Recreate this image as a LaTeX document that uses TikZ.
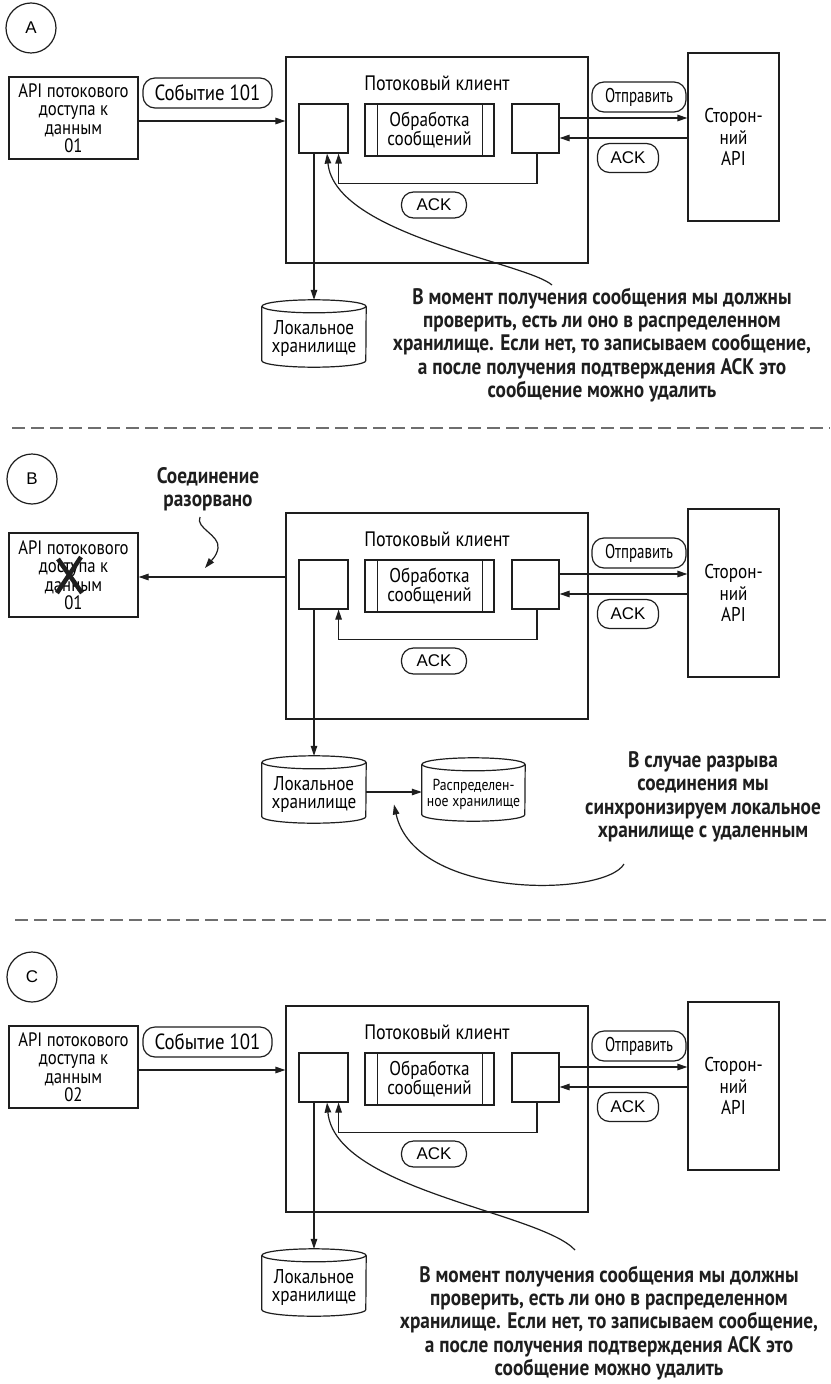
\documentclass[tikz,border=0pt]{standalone}
\usepackage{fontspec}
\setmainfont{PT Sans}[FakeStretch=0.86]
\newfontfamily\ackfamily{Liberation Sans}
\usetikzlibrary{arrows.meta,calc}

\definecolor{ink}{HTML}{1E1E1E}
\definecolor{sepgray}{HTML}{6E6E6E}

\newcommand\lbl{\fontsize{20}{17}\selectfont}
\newcommand\apif{\fontsize{19.5}{18.5}\selectfont}
\newcommand\ackf{\ackfamily\fontsize{17}{17}\selectfont}
\newcommand\notef{\bfseries\fontsize{22.5}{23.5}\selectfont}

\tikzset{
  x=1bp, y=-1bp,
  line/.style={draw=ink, line width=1.2bp},
  box/.style={line, rectangle, inner sep=0pt, align=center, font=\lbl},
  pill/.style={line, rectangle, rounded corners=12bp, inner sep=0pt, align=center, font=\lbl},
  arr/.style={line, -{Triangle[length=10bp,width=6.5bp]}},
  circ/.style={line, circle, minimum size=50bp, inner sep=0pt, font=\ackf},
  note/.style={align=center, font=\notef, text=ink},
  sep/.style={draw=sepgray, line width=1.3bp, dash pattern=on 13bp off 6bp},
}

% storage cylinder: name, centre, width, height, font, text
\newcommand\storage[6]{%
  \node[minimum width=#3bp, minimum height=#4bp, inner sep=0pt] (#1) at #2 {};
  \draw[line] ($(#1.north west)+(0,6.5)$) -- ($(#1.south west)+(0,-6.5)$)
    arc[start angle=180, end angle=360, x radius=#3*0.5bp, y radius=6.5bp]
    -- ($(#1.north east)+(0,6.5)$);
  \draw[line] ($(#1.north)+(0,6.5)$) ellipse[x radius=#3*0.5bp, y radius=6.5bp];
  \node[font=#5, align=center, inner sep=0pt] (#1-txt) at ($(#1)+(0,5)$) {#6};
}

% streaming client with its buffers, third-party API and local storage
\newcommand\clientblock[2]{%
\begin{scope}[shift={(0,#2)}]
  \node[box, minimum width=302bp, minimum height=206bp] (#1cl) at (437,160) {};
  \node[font=\fontsize{21}{21}\selectfont] (#1ttl) at (437,83) {Потоковый клиент};
  \node[box, minimum width=49bp, minimum height=49bp] (#1in) at (323.5,128.5) {};
  \node[box, minimum width=129bp, minimum height=52bp, font=\fontsize{20}{18}\selectfont] (#1proc) at (429.5,130) {Обработка\\сообщений};
  \draw[line] ($(#1proc.north west)+(13,0)$) -- ($(#1proc.south west)+(13,0)$);
  \draw[line] ($(#1proc.north east)+(-12,0)$) -- ($(#1proc.south east)+(-12,0)$);
  \node[box, minimum width=47bp, minimum height=49bp] (#1out) at (535.5,128.5) {};
  \draw[arr] ($(#1out.south)+(1.5,0)$) -- ++(0,30) -| ($(#1in.south east)+(-10,0)$);
  \node[pill, minimum width=65bp, minimum height=26bp, font=\ackf] (#1ack) at (434,205) {ACK};
  \node[box, minimum width=91bp, minimum height=168bp, font=\fontsize{20}{21.5}\selectfont] (#1ext) at (733.5,137) {Сторон-\\ний\\API};
  \draw[arr] ($(#1out.east)+(0,-10.5)$) -- ($(#1ext.west|-#1out.east)+(0,-10.5)$);
  \draw[arr] ($(#1ext.west|-#1out.east)+(0,9.5)$) -- ($(#1out.east)+(0,9.5)$);
  \node[pill, minimum width=94bp, minimum height=30bp] (#1send) at (639,97) {\scalebox{0.87}[1]{Отправить}};
  \node[pill, minimum width=61bp, minimum height=29bp, font=\ackf] (#1ack2) at (628,158) {ACK};
  \storage{#1loc}{(314,333.5)}{104}{67}{\fontsize{20}{18}\selectfont}{Локальное\\хранилище}
  \draw[arr] (#1in.south -| #1loc.north) -- (#1loc.north);
\end{scope}}

\begin{document}
\begin{tikzpicture}
\useasboundingbox (0,0) rectangle (830,1384);
\fill[white] (0,0) rectangle (830,1384);

% separators between the three cases
\draw[sep] (12,428) -- (830,428);
\draw[sep] (15,920) -- (830,920);

\clientblock{A}{0}
\clientblock{B}{456}
\clientblock{C}{949}

% ---------- case A
\node[circ] (Acirc) at (31,28) {A};
\node[box, minimum width=129bp, minimum height=82bp, font=\apif] (Aapi) at (73.5,118) {API потокового\\доступа к\\данным\\01};
\node[pill, minimum width=129bp, minimum height=30bp, font=\fontsize{22}{22}\selectfont] (Aevt) at (207.5,93) {Событие 101};
\draw[arr] ($(Aapi.east)+(0,3)$) -- ($(Aapi.east -| Acl.west)+(0,3)$);
\node[note] (Anote) at (602,345) {В момент получения сообщения мы должны\\проверить, есть ли оно в распределенном\\хранилище. Если нет, то записываем сообщение,\\а после получения подтверждения ACK это\\сообщение можно удалить};
\coordinate (Atail) at (552,285);
\draw[arr] (Atail) .. controls (525,262) and (335,235) .. ($(Ain.south)+(3.5,0)$);

% ---------- case B
\node[circ] (Bcirc) at (32,479) {B};
\node[note] (Bbrk) at (208,489) {Соединение\\разорвано};
\node[box, minimum width=129bp, minimum height=84bp, font=\apif] (Bapi) at (73.5,575) {API потокового\\доступа к\\данным\\01};
\draw[ink, line width=4.5bp] (57,593) -- (81,557) (58,559) -- (82,593);
\draw[arr] ($(Bcl.west|-Bapi.east)+(0,2)$) -- ($(Bapi.east)+(0,2)$);
\coordinate (Bwave) at (200,517);
\draw[arr] (Bwave) .. controls (195,528) and (220,535) .. (218,548) .. controls (217,556) and (210,562) .. (205,568);
\storage{Bdist}{(473.5,789.5)}{103}{63}{\fontsize{16}{16}\selectfont}{Распределен-\\ное хранилище}
\draw[arr] ($(Bloc.east)+(0,2.5)$) -- ($(Bloc.east -| Bdist.west)+(0,2.5)$);
\node[note] (Bnote) at (703,797) {В случае разрыва\\соединения мы\\синхронизируем локальное\\хранилище с удаленным};
\coordinate (Btail) at (624,864);
\coordinate (Bhead) at ($(Bloc.east)!0.5!(Bdist.west)+(0,15)$);
\draw[arr] (Btail) .. controls (605,897) and (415,900) .. (Bhead);

% ---------- case C
\node[circ] (Ccirc) at (32,977) {C};
\node[box, minimum width=129bp, minimum height=82bp, font=\apif] (Capi) at (73.5,1067) {API потокового\\доступа к\\данным\\02};
\node[pill, minimum width=129bp, minimum height=30bp, font=\fontsize{22}{22}\selectfont] (Cevt) at (207.5,1042) {Событие 101};
\draw[arr] ($(Capi.east)+(0,3)$) -- ($(Capi.east -| Ccl.west)+(0,3)$);
\node[note] (Cnote) at (609,1323) {В момент получения сообщения мы должны\\проверить, есть ли оно в распределенном\\хранилище. Если нет, то записываем сообщение,\\а после получения подтверждения ACK это\\сообщение можно удалить};
\coordinate (Ctail) at (575,1250);
\draw[arr] (Ctail) .. controls (540,1212) and (335,1190) .. ($(Cin.south)+(3.5,0)$);
\end{tikzpicture}
\end{document}
